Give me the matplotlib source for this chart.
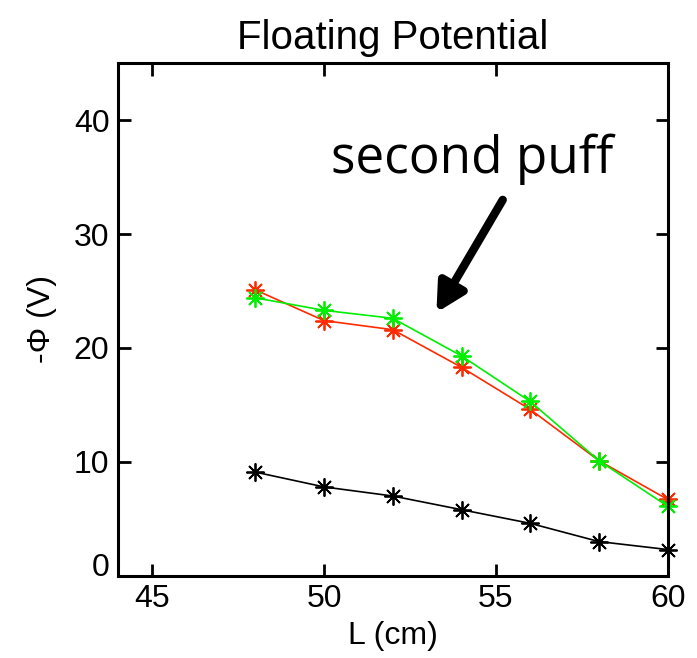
import matplotlib
matplotlib.use("Agg")
import matplotlib.pyplot as plt

plt.rcParams.update({
    "font.family": ["Liberation Sans", "DejaVu Sans"],
})

# data
L_cm = [48, 50, 52, 54, 56, 58, 60]
phi_black = [9.1, 7.8, 7.0, 5.8, 4.6, 3.0, 2.3]
phi_red = [25.1, 22.4, 21.6, 18.3, 14.6, 10.1, 6.7]
phi_green = [24.4, 23.3, 22.6, 19.3, 15.3, 10.1, 6.1]

x_ticks = [45, 50, 55, 60]
y_ticks = [0, 10, 20, 30, 40]

fig = plt.figure(figsize=(6.97, 6.58), dpi=100)
ax = fig.add_axes([0.169, 0.125, 0.789, 0.779])

asterisk = (8, 2, 0)
ax.plot(L_cm, phi_black, color="black", lw=1.2, marker=asterisk, ms=13, mew=1.3, clip_on=False)
ax.plot(L_cm, phi_red, color="#ff2a00", lw=1.2, marker=asterisk, ms=13, mew=1.3, clip_on=False)
ax.plot(L_cm, phi_green, color="#00ee00", lw=1.2, marker=asterisk, ms=13, mew=1.3, clip_on=False)

ax.set_xlim(44, 60)
ax.set_ylim(0, 45)
ax.set_xticks(x_ticks)
ax.set_yticks(y_ticks)
ax.tick_params(direction="in", length=9, width=2, top=True, right=True,
               labelsize=23, pad=6)
# matlab lifts the lowest y label off the x axis
ax.yaxis.get_major_ticks()[0].label1.set_va("baseline")
for s in ax.spines.values():
    s.set_linewidth(2.2)

ax.set_title("Floating Potential", fontsize=29, pad=10)
ax.set_xlabel("L (cm)", fontsize=23, labelpad=5)
ax.set_ylabel("-\u03A6 (V)", fontsize=23, labelpad=12)

ax.text(50.2, 35.4, "second puff", fontsize=37, family="Open Sans", ha="left", va="baseline")
ax.annotate("", xy=(53.27, 23.1), xytext=(55.2, 33.0),
            arrowprops=dict(arrowstyle="-|>,head_length=1.7,head_width=0.9",
                            color="black", lw=6, shrinkA=0, shrinkB=0))

fig.savefig("out.png", dpi=100)
